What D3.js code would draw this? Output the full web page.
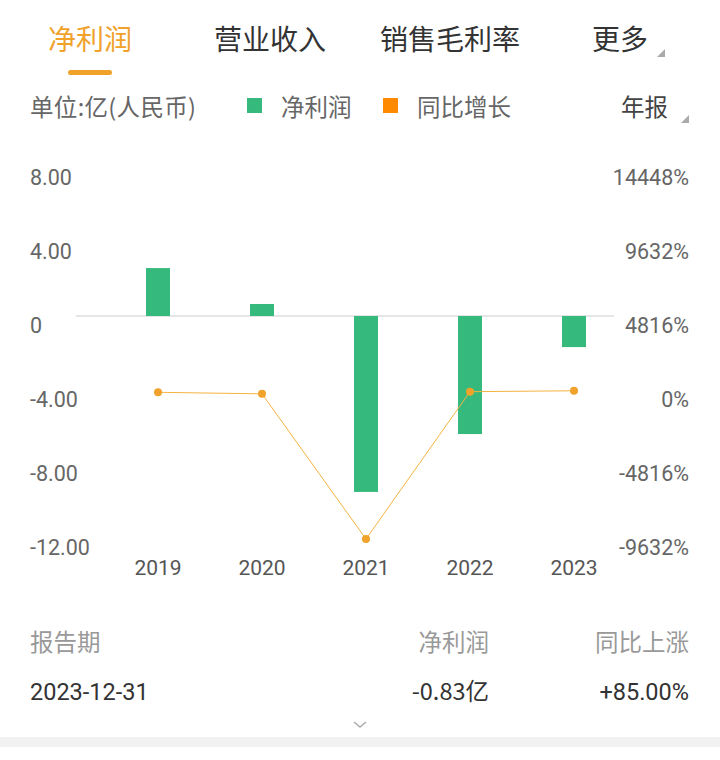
<!DOCTYPE html>
<html>
<head>
<meta charset="utf-8">
<script src="https://cdn.jsdelivr.net/npm/d3@7"></script>
<style>
  body { margin: 0; background: #fff; }
  svg { display: block; }
  .cjk { font-family: "Noto Sans CJK SC", sans-serif; }
  .num { font-family: Roboto, sans-serif; }
</style>
</head>
<body>
<div id="chart"></div>
<script>
// Data
const years = ["2019", "2020", "2021", "2022", "2023"];
const netProfit = [2.59, 0.65, -9.51, -6.38, -1.68];   // 亿
const yoyGrowth = [-150, -250, -9700, -110, -50];       // %
const leftTicks = [8, 4, 0, -4, -8, -12];
const rightTicks = [14448, 9632, 4816, 0, -4816, -9632];
const tabs = ["净利润", "营业收入", "销售毛利率", "更多"];

const width = 720;
const height = 760;
const green = "#36b97c";
const orange = "#f0a22b";

const svg = d3.select("#chart")
    .append("svg")
    .attr("width", width)
    .attr("height", height);

// Tabs
const tabX = [90, 270, 450, 620];
svg.selectAll(".tab")
    .data(tabs)
    .join("text")
    .attr("class", "tab cjk")
    .attr("x", (d, i) => tabX[i])
    .attr("y", 50)
    .attr("text-anchor", "middle")
    .attr("font-size", 28)
    .attr("fill", (d, i) => i === 0 ? "#f0a22b" : "#333")
    .text(d => d);

svg.append("rect")
    .attr("x", 68).attr("y", 70)
    .attr("width", 44).attr("height", 5)
    .attr("rx", 2.5)
    .attr("fill", orange);

// small corner triangles
function corner(x, y) {
    svg.append("path")
        .attr("d", `M${x},${y} L${x},${y - 8} L${x - 8},${y} Z`)
        .attr("fill", "#aaa");
}
corner(665, 57);
corner(689, 123);

// Legend row
const legY = 116;
svg.append("text").attr("class", "cjk")
    .attr("x", 30).attr("y", legY)
    .attr("font-size", 23.5).attr("fill", "#666")
    .attr("textLength", 166)
    .text("单位:亿(人民币)");

svg.append("rect").attr("x", 247).attr("y", 98).attr("width", 15).attr("height", 15).attr("fill", green);
svg.append("text").attr("class", "cjk")
    .attr("x", 281).attr("y", legY)
    .attr("font-size", 23.5).attr("fill", "#666")
    .text("净利润");

svg.append("rect").attr("x", 383).attr("y", 98).attr("width", 15).attr("height", 15).attr("fill", "#ff8a00");
svg.append("text").attr("class", "cjk")
    .attr("x", 417).attr("y", legY)
    .attr("font-size", 23.5).attr("fill", "#666")
    .text("同比增长");

svg.append("text").attr("class", "cjk")
    .attr("x", 668).attr("y", legY)
    .attr("text-anchor", "end")
    .attr("font-size", 23.5).attr("fill", "#444")
    .text("年报");

// Scales
const x = d3.scaleBand()
    .domain(years)
    .range([106, 626]);

const yL = d3.scaleLinear().domain([-12, 8]).range([538, 168]);
const yR = d3.scaleLinear().domain([-9632, 14448]).range([538, 168]);

// Axis labels
svg.selectAll(".ltick")
    .data(leftTicks)
    .join("text")
    .attr("class", "ltick num")
    .attr("x", 30)
    .attr("y", d => yL(d) + 17)
    .attr("font-size", 21.5)
    .attr("fill", "#666")
    .text(d => d === 0 ? "0" : d.toFixed(2));

svg.selectAll(".rtick")
    .data(rightTicks)
    .join("text")
    .attr("class", "rtick num")
    .attr("x", 689)
    .attr("y", d => yR(d) + 17)
    .attr("text-anchor", "end")
    .attr("font-size", 21.5)
    .attr("fill", "#666")
    .text(d => d + "%");

// Zero line
svg.append("line")
    .attr("x1", 76).attr("x2", 614)
    .attr("y1", yL(0)).attr("y2", yL(0))
    .attr("stroke", "#ccc")
    .attr("stroke-width", 1);

// Bars
const barW = 24;
svg.selectAll(".bar")
    .data(netProfit)
    .join("rect")
    .attr("class", "bar")
    .attr("x", (d, i) => x(years[i]) + x.bandwidth() / 2 - barW / 2)
    .attr("y", d => Math.min(yL(d), yL(0)))
    .attr("width", barW)
    .attr("height", d => Math.abs(yL(d) - yL(0)))
    .attr("fill", green);

// Growth line
const line = d3.line()
    .x((d, i) => x(years[i]) + x.bandwidth() / 2)
    .y(d => yR(d));

svg.append("path")
    .datum(yoyGrowth)
    .attr("d", line)
    .attr("fill", "none")
    .attr("stroke", "#f5b342")
    .attr("stroke-width", 1);

svg.selectAll(".dot")
    .data(yoyGrowth)
    .join("circle")
    .attr("class", "dot")
    .attr("cx", (d, i) => x(years[i]) + x.bandwidth() / 2)
    .attr("cy", d => yR(d))
    .attr("r", 4)
    .attr("fill", orange);

// Year labels
svg.selectAll(".year")
    .data(years)
    .join("text")
    .attr("class", "year num")
    .attr("x", d => x(d) + x.bandwidth() / 2)
    .attr("y", 575)
    .attr("text-anchor", "middle")
    .attr("font-size", 21)
    .attr("fill", "#555")
    .text(d => d);

// Table
const headY = 651, rowY = 700;
const tsize = 23.5;
svg.append("text").attr("class", "cjk").attr("x", 30).attr("y", headY)
    .attr("font-size", tsize).attr("fill", "#999").text("报告期");
svg.append("text").attr("class", "cjk").attr("x", 489).attr("y", headY)
    .attr("text-anchor", "end").attr("font-size", tsize).attr("fill", "#999").text("净利润");
svg.append("text").attr("class", "cjk").attr("x", 689).attr("y", headY)
    .attr("text-anchor", "end").attr("font-size", tsize).attr("fill", "#999").text("同比上涨");

svg.append("text").attr("class", "num").attr("x", 30).attr("y", rowY)
    .attr("font-size", tsize).attr("fill", "#333").text("2023-12-31");
svg.append("text").attr("class", "cjk").attr("x", 489).attr("y", rowY)
    .attr("text-anchor", "end").attr("font-size", tsize).attr("fill", "#333").text("-0.83亿");
svg.append("text").attr("class", "num").attr("x", 689).attr("y", rowY)
    .attr("text-anchor", "end").attr("font-size", tsize).attr("fill", "#333").text("+85.00%");

// Chevron
svg.append("path")
    .attr("d", "M354,722 L360,727 L366,722")
    .attr("fill", "none")
    .attr("stroke", "#aaa")
    .attr("stroke-width", 1.5);

// Bottom gray band
svg.append("rect")
    .attr("x", 0).attr("y", 737)
    .attr("width", width).attr("height", 10)
    .attr("fill", "#f2f2f2");
</script>
</body>
</html>
